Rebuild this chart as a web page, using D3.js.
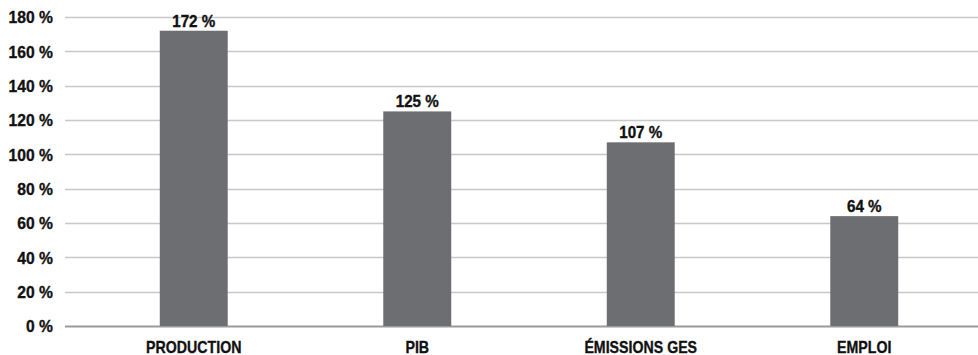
<!DOCTYPE html>
<html>
<head>
<meta charset="utf-8">
<script src="https://cdn.jsdelivr.net/npm/d3@7"></script>
<style>
  html, body { margin: 0; padding: 0; background: #fff; }
  svg { display: block; }
  text { font-family: "Liberation Sans", Arial, sans-serif; font-weight: bold; fill: #111; stroke: #111; stroke-width: 0.35px; }
</style>
</head>
<body>
<svg id="chart" width="978" height="355"></svg>
<script>
// Growth indicators, in percent
const categories = ["PRODUCTION", "PIB", "ÉMISSIONS GES", "EMPLOI"];
const values = [172, 125, 107, 64];
const yTicks = [0, 20, 40, 60, 80, 100, 120, 140, 160, 180];

const gridLeft = 65, gridRight = 978;
const plot = { left: 82, right: 976, top: 17, bottom: 326 };

// Condensed look: horizontal squeeze applied to the bold sans
const numSqueeze = "scale(0.95,1)";
const catSqueeze = "scale(0.86,1)";

const svg = d3.select("#chart");

const x = d3.scaleBand()
  .domain(categories)
  .range([plot.left, plot.right])
  .paddingInner(0.696)
  .paddingOuter(0.348);

const y = d3.scaleLinear()
  .domain([0, 180])
  .range([plot.bottom, plot.top]);

const fmt = v => v + " %";

// Horizontal gridlines (baseline drawn darker)
svg.append("g")
  .selectAll("line")
  .data(yTicks)
  .join("line")
  .attr("x1", gridLeft)
  .attr("x2", gridRight)
  .attr("y1", d => Math.round(y(d)) + 0.5)
  .attr("y2", d => Math.round(y(d)) + 0.5)
  .attr("stroke", d => d === 0 ? "#9a9a9a" : "#c8c8c8")
  .attr("stroke-width", d => d === 0 ? 2 : 1.5);

// Y axis labels
const yAxis = d3.axisLeft(y).tickValues(yTicks).tickFormat(fmt).tickSize(0).tickPadding(0);
const gy = svg.append("g")
  .attr("transform", "translate(53,0)")
  .call(yAxis);
gy.select(".domain").remove();
gy.selectAll("text")
  .attr("x", 0)
  .style("font-size", "16.5px")
  .attr("fill", "#111")
  .attr("dy", "0.36em")
  .attr("transform", numSqueeze);

// Bars
svg.append("g")
  .selectAll("rect")
  .data(values)
  .join("rect")
  .attr("x", (d, i) => x(categories[i]))
  .attr("width", x.bandwidth())
  .attr("y", d => y(d))
  .attr("height", d => y(0) - y(d))
  .attr("fill", "#6d6e71");

// Value labels above bars
svg.append("g")
  .selectAll("g")
  .data(values)
  .join("g")
  .attr("transform", (d, i) => `translate(${x(categories[i]) + x.bandwidth() / 2},${y(d) - 4})`)
  .append("text")
  .attr("text-anchor", "middle")
  .attr("transform", numSqueeze)
  .style("font-size", "16px")
  .text(fmt);

// Category labels
const xAxis = d3.axisBottom(x).tickSize(0).tickPadding(0);
const gx = svg.append("g")
  .attr("transform", `translate(0,${plot.bottom})`)
  .call(xAxis);
gx.select(".domain").remove();
gx.selectAll("text")
  .style("font-size", "16.5px")
  .attr("fill", "#111")
  .attr("dy", null)
  .attr("y", 27)
  .attr("transform", catSqueeze);
</script>
</body>
</html>
